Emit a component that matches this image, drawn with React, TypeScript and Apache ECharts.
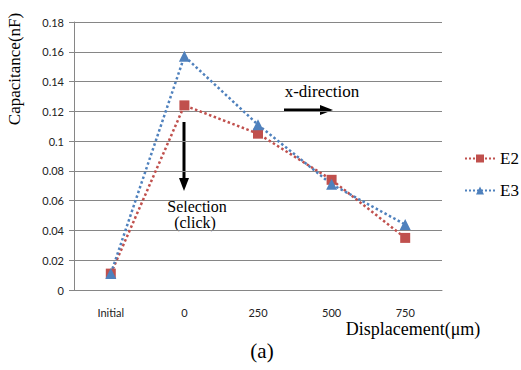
import React, { useEffect, useRef } from "react";
import * as echarts from "echarts";

const categories = ["Initial", "0", "250", "500", "750"];
const e2 = [0.011, 0.124, 0.105, 0.074, 0.035];
const e3 = [0.011, 0.157, 0.111, 0.071, 0.044];
const yTicks = { min: 0, max: 0.18, interval: 0.02 };

const RED = "#C0504D";
const BLUE = "#4F81BD";
const SERIF = "Liberation Serif";
const SANS = "Lato";

function txt(x: number, y: number, text: string, size: number, rotation = 0) {
  return {
    type: "text",
    x,
    y,
    rotation,
    style: {
      text,
      fontFamily: SERIF,
      fontSize: size,
      fill: "#000",
      align: "center",
      verticalAlign: "middle",
    },
  };
}

export default function App() {
  const ref = useRef<HTMLDivElement>(null);
  useEffect(() => {
    document.body.style.margin = "0";
    const chart = echarts.init(ref.current!, null, { renderer: "svg" });
    chart.setOption({
      animation: false,
      backgroundColor: "#ffffff",
      grid: { left: 74, right: 79, top: 22, bottom: 80 },
      legend: {
        orient: "vertical",
        left: 459,
        top: 145,
        itemGap: 15,
        itemWidth: 30,
        itemHeight: 10,
        textStyle: { fontFamily: SERIF, fontSize: 17, color: "#000" },
        data: ["E2", "E3"],
      },
      xAxis: {
        type: "category",
        data: categories,
        boundaryGap: true,
        axisLine: { lineStyle: { color: "#868686" } },
        axisTick: { alignWithLabel: false, length: 5, lineStyle: { color: "#868686" } },
        axisLabel: { margin: 17, fontFamily: SANS, fontSize: 11, color: "#222" },
      },
      yAxis: {
        type: "value",
        min: yTicks.min,
        max: yTicks.max,
        interval: yTicks.interval,
        axisLine: { show: true, lineStyle: { color: "#868686" } },
        axisTick: { show: true, length: 5, inside: false, lineStyle: { color: "#868686" } },
        splitLine: { lineStyle: { color: "#868686" } },
        axisLabel: { margin: 10, fontFamily: SANS, fontSize: 11, color: "#222" },
      },
      series: [
        {
          name: "E2",
          type: "line",
          data: e2,
          symbol: "rect",
          symbolSize: 10,
          color: RED,
          lineStyle: { type: "dotted", width: 2.5, color: RED },
          itemStyle: { color: RED },
        },
        {
          name: "E3",
          type: "line",
          data: e3,
          symbol: "triangle",
          symbolSize: 11,
          color: BLUE,
          lineStyle: { type: "dotted", width: 2.5, color: BLUE },
          itemStyle: { color: BLUE },
        },
      ],
      graphic: [
        txt(14, 69, "Capacitance(nF)", 17, Math.PI / 2),
        txt(413, 329, "Displacement(μm)", 18),
        txt(262, 351, "(a)", 21),
        txt(322, 91, "x-direction", 17),
        {
          type: "line",
          shape: { x1: 284, y1: 110, x2: 322, y2: 110 },
          style: { stroke: "#000", lineWidth: 3 },
        },
        {
          type: "polygon",
          shape: { points: [[320, 105], [333, 110], [320, 115]] },
          style: { fill: "#000" },
        },
        {
          type: "line",
          shape: { x1: 184, y1: 122, x2: 184, y2: 180 },
          style: { stroke: "#000", lineWidth: 3 },
        },
        {
          type: "polygon",
          shape: { points: [[179, 178], [184, 191], [189, 178]] },
          style: { fill: "#000" },
        },
        txt(197, 206, "Selection", 16),
        txt(195, 222, "(click)", 16),
      ],
    });
    return () => chart.dispose();
  }, []);
  return <div ref={ref} style={{ width: 521, height: 370 }} />;
}
